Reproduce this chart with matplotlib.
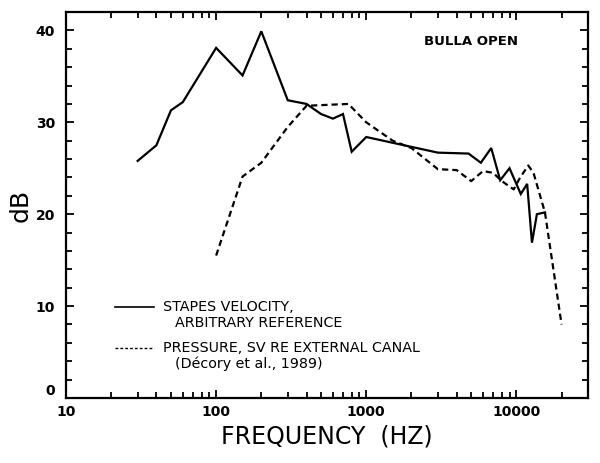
import matplotlib
matplotlib.use("Agg")
import matplotlib.pyplot as plt
from matplotlib.ticker import LogLocator, MultipleLocator, FixedLocator, NullFormatter

# Stapes velocity (solid)
sv_freq = [30, 40, 50, 60, 100, 150, 200, 300, 400, 500, 600, 700, 800, 1000,
           3000, 4800, 5800, 6800, 7800, 9000, 10700, 11800, 12700, 13700, 15500]
sv_db = [25.8, 27.5, 31.3, 32.2, 38.1, 35.1, 39.9, 32.4, 32.0, 30.9, 30.4, 30.9, 26.8, 28.4,
         26.7, 26.6, 25.6, 27.2, 23.7, 25.0, 22.2, 23.3, 16.9, 20.0, 20.2]

# Pressure, SV re external canal (dashed)
pr_freq = [100, 150, 200, 300, 400, 760, 1000, 1500, 2000, 3000, 4000, 5000, 6000,
           7000, 8000, 9600, 10600, 12000, 13000, 15500, 20000]
pr_db = [15.5, 24.1, 25.6, 29.5, 31.8, 32.0, 30.0, 28.0, 27.2, 24.9, 24.8, 23.6, 24.7,
         24.5, 23.6, 22.7, 24.0, 25.3, 24.5, 20.2, 8.0]

x_ticks = [10, 100, 1000, 10000]
x_tick_labels = ["10", "100", "1000", "10000"]
y_ticks = [0, 10, 20, 30, 40]

fig = plt.figure(figsize=(6.0, 4.63), dpi=100)
ax = fig.add_axes([0.11, 0.1404, 0.87, 0.8336])

ax.plot(sv_freq, sv_db, color="black", lw=1.6, solid_joinstyle="miter")
ax.plot(pr_freq, pr_db, color="black", lw=1.6, linestyle=(0, (2.8, 1.8)))

ax.set_xscale("log")
ax.set_xlim(10, 30000)
ax.set_ylim(0, 42)

ax.xaxis.set_major_locator(FixedLocator(x_ticks))
ax.set_xticklabels(x_tick_labels)
ax.xaxis.set_minor_locator(LogLocator(base=10, subs=range(2, 10)))
ax.xaxis.set_minor_formatter(NullFormatter())
ax.yaxis.set_major_locator(FixedLocator(y_ticks))
ax.yaxis.set_minor_locator(MultipleLocator(2))

ax.tick_params(which="both", direction="in", top=True, right=True, width=1.3,
               labelsize=10)
ax.tick_params(axis="x", pad=5)
ax.tick_params(axis="y", pad=8)
ax.tick_params(which="major", length=6)
ax.tick_params(which="minor", length=4)
for lab in ax.get_xticklabels() + ax.get_yticklabels():
    lab.set_fontweight("bold")
ax.get_yticklabels()[0].set_va("bottom")
for s in ax.spines.values():
    s.set_linewidth(1.6)

ax.set_xlabel("FREQUENCY  (HZ)", fontsize=17, labelpad=4)
ax.set_ylabel("dB", fontsize=18, labelpad=2)

ax.text(0.685, 0.923, "BULLA OPEN", transform=ax.transAxes, fontsize=9.5,
        fontweight="bold", va="center", ha="left")

# legend drawn manually
fs = 10.3
ax.plot([0.094, 0.168], [0.237, 0.237], transform=ax.transAxes, color="black", lw=1.2)
ax.text(0.186, 0.237, "STAPES VELOCITY,", transform=ax.transAxes, fontsize=fs, va="center")
ax.text(0.208, 0.195, "ARBITRARY REFERENCE", transform=ax.transAxes, fontsize=fs, va="center")
ax.plot([0.094, 0.168], [0.130, 0.130], transform=ax.transAxes, color="black", lw=1.0,
        linestyle=(0, (2, 1.5)))
ax.text(0.186, 0.130, "PRESSURE, SV RE EXTERNAL CANAL", transform=ax.transAxes, fontsize=fs, va="center")
ax.text(0.208, 0.090, "(Décory et al., 1989)", transform=ax.transAxes, fontsize=fs, va="center")

fig.savefig("out.png", dpi=100)
